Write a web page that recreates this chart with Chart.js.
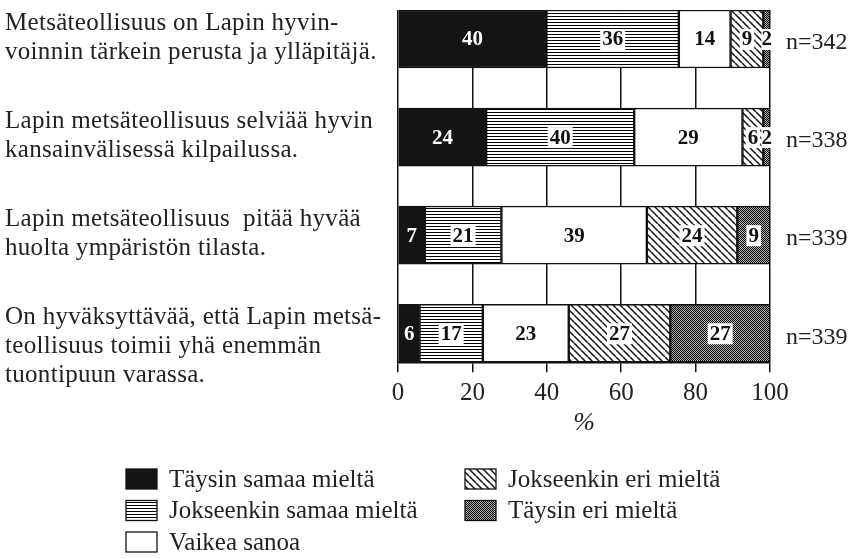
<!DOCTYPE html>
<html>
<head>
<meta charset="utf-8">
<script src="https://cdn.jsdelivr.net/npm/chart.js@4.4.0/dist/chart.umd.min.js"></script>
<style>
  html, body { margin: 0; padding: 0; background: #fff; }
</style>
</head>
<body>
<canvas id="chart" width="852" height="559"></canvas>
<script>
// statements (left text), one entry per bar row
const statements = [
    ['Metsäteollisuus on Lapin hyvin-', 'voinnin tärkein perusta ja ylläpitäjä.'],
    ['Lapin metsäteollisuus selviää hyvin', 'kansainvälisessä kilpailussa.'],
    ['Lapin metsäteollisuus  pitää hyvää', 'huolta ympäristön tilasta.'],
    ['On hyväksyttävää, että Lapin metsä-', 'teollisuus toimii yhä enemmän', 'tuontipuun varassa.']
];
const respondents = ['n=342', 'n=338', 'n=339', 'n=339'];
const responseLabels = ['Täysin samaa mieltä', 'Jokseenkin samaa mieltä', 'Vaikea sanoa', 'Jokseenkin eri mieltä', 'Täysin eri mieltä'];

// shares in % (printed labels are these rounded)
const taysinSamaa = [39.9, 23.7, 7.2, 5.8];
const jokseenkinSamaa = [35.6, 39.8, 20.6, 17.0];
const vaikeaSanoa = [13.9, 29.1, 39.1, 23.1];
const jokseenkinEri = [8.8, 5.6, 24.3, 27.3];
const taysinEri = [1.8, 1.8, 8.8, 26.8];

const xTicks = [0, 20, 40, 60, 80, 100];

const SERIF = '"Liberation Serif", "Times New Roman", serif';

function makePattern(kind) {
    const c = document.createElement('canvas');
    const g = c.getContext('2d');
    if (kind === 'solid') {
        return '#141414';
    }
    if (kind === 'white') {
        return '#ffffff';
    }
    if (kind === 'hlines') {
        c.width = 4; c.height = 3;
        g.fillStyle = '#fff'; g.fillRect(0, 0, 4, 3);
        g.fillStyle = '#000'; g.fillRect(0, 1, 4, 1);
    } else if (kind === 'diag') {
        c.width = 7; c.height = 7;
        g.fillStyle = '#fff'; g.fillRect(0, 0, 7, 7);
        g.strokeStyle = '#111'; g.lineWidth = 1.5;
        [-7, 0, 7].forEach(k => {
            g.beginPath();
            g.moveTo(k, 0);
            g.lineTo(k + 7, 7);
            g.stroke();
        });
    } else if (kind === 'dots') {
        c.width = 2; c.height = 2;
        g.fillStyle = '#b4b4b4'; g.fillRect(0, 0, 2, 2);
        g.fillStyle = '#000';
        g.fillRect(0, 0, 1, 1);
        g.fillRect(1, 1, 1, 1);
    }
    return g.createPattern(c, 'repeat');
}

const fills = ['solid', 'hlines', 'white', 'diag', 'dots'].map(makePattern);
const series = [taysinSamaa, jokseenkinSamaa, vaikeaSanoa, jokseenkinEri, taysinEri];

const datasets = series.map((vals, si) => ({
    label: responseLabels[si],
    data: vals.map((v, i) => ({ x: v, y: i })),
    backgroundColor: fills[si],
    borderColor: '#111',
    borderWidth: 1.5,
    borderSkipped: false,
    barThickness: 58
}));

const annotations = {
    id: 'annotations',
    afterDatasetsDraw(chart) {
        const ctx = chart.ctx;
        ctx.save();
        ctx.font = 'bold 21px ' + SERIF;
        ctx.textAlign = 'center';
        ctx.textBaseline = 'middle';
        chart.data.datasets.forEach((ds, di) => {
            chart.getDatasetMeta(di).data.forEach((bar, i) => {
                const txt = String(Math.round(ds.data[i].x));
                const cx = (bar.x + bar.base) / 2;
                const cy = bar.y;
                if (di === 0) {
                    ctx.fillStyle = '#fff';
                } else {
                    const w = ctx.measureText(txt).width;
                    ctx.fillStyle = '#fff';
                    // the small end segments only get a tight box
                    const pad = ds.data[i].x < 5 ? 0 : 2;
                    ctx.fillRect(cx - w / 2 - pad, cy - 10, w + 2 * pad, 21);
                    ctx.fillStyle = '#111';
                }
                ctx.fillText(txt, cx, cy + 1);
            });
        });
        ctx.restore();
    },
    afterDraw(chart) {
        const ctx = chart.ctx;
        const area = chart.chartArea;
        const bars = chart.getDatasetMeta(0).data;
        ctx.save();
        ctx.fillStyle = '#222';
        ctx.textAlign = 'left';

        // statements on the left
        ctx.font = '25px ' + SERIF;
        ctx.letterSpacing = '0.3px';
        ctx.textBaseline = 'alphabetic';
        statements.forEach((lines, i) => {
            const top = bars[i].y - bars[i].height / 2;
            lines.forEach((line, j) => {
                ctx.fillText(line, 5, top + 20 + j * 29);
            });
        });
        ctx.letterSpacing = '0px';

        // n counts on the right
        ctx.font = '24px ' + SERIF;
        ctx.textBaseline = 'middle';
        respondents.forEach((txt, i) => {
            ctx.fillText(txt, area.right + 16, bars[i].y + 4);
        });

        // legend in two columns
        const cols = [[0, 1, 2], [3, 4]];
        const colX = [126, 465];
        ctx.font = '25px ' + SERIF;
        ctx.textBaseline = 'middle';
        cols.forEach((items, ci) => {
            items.forEach((si, ri) => {
                const y = 479 + ri * 31.5;
                ctx.fillStyle = fills[si];
                ctx.fillRect(colX[ci], y - 10, 31, 20);
                ctx.strokeStyle = '#111';
                ctx.lineWidth = 1.3;
                ctx.strokeRect(colX[ci], y - 10, 31, 20);
                ctx.fillStyle = '#222';
                ctx.fillText(responseLabels[si], colX[ci] + 43, y + 1);
            });
        });
        ctx.restore();
    }
};

new Chart(document.getElementById('chart'), {
    type: 'bar',
    data: { datasets: datasets },
    options: {
        indexAxis: 'y',
        responsive: false,
        animation: false,
        layout: {
            padding: { left: 398, right: 82, top: 10, bottom: 120 }
        },
        plugins: {
            legend: { display: false },
            tooltip: { enabled: false }
        },
        scales: {
            x: {
                type: 'linear',
                stacked: true,
                min: 0,
                max: 100,
                afterBuildTicks: axis => {
                    axis.ticks = xTicks.map(v => ({ value: v }));
                },
                ticks: {
                    color: '#222',
                    padding: 6.5,
                    font: { family: SERIF, size: 25 }
                },
                grid: {
                    color: '#111',
                    lineWidth: 1.5,
                    tickLength: 10,
                    drawOnChartArea: true
                },
                border: { display: true, color: '#111', width: 1.5 },
                title: {
                    display: true,
                    text: '%',
                    color: '#222',
                    font: { family: SERIF, size: 26, style: 'italic' },
                    padding: { top: -7.5, bottom: 0 }
                }
            },
            y: {
                type: 'linear',
                stacked: true,
                reverse: true,
                offset: false,
                min: -0.296,
                max: 3.296,
                display: false
            }
        }
    },
    plugins: [annotations]
});
</script>
</body>
</html>
